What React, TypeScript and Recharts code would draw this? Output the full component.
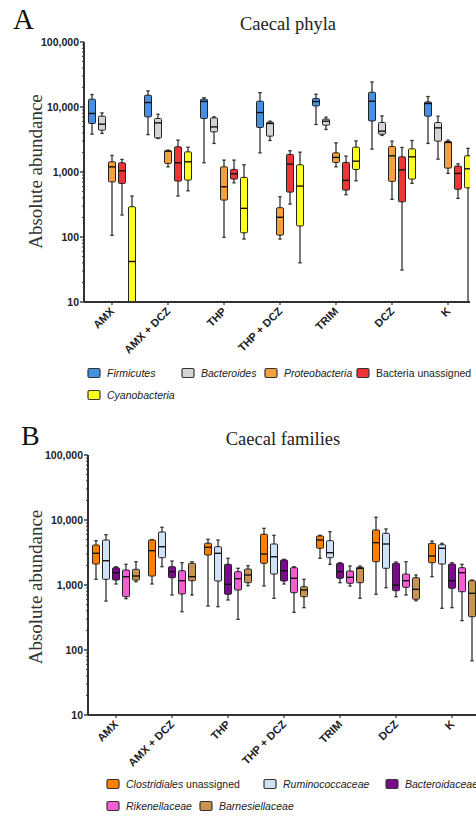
import { Bar, BarChart, XAxis, YAxis } from 'recharts'

// each box: [min, q1, median, q3, max]
type Box = [number, number, number, number, number]

const groups = ['AMX', 'AMX + DCZ', 'THP', 'THP + DCZ', 'TRIM', 'DCZ', 'K']
const yMajorTicks = [10, 100, 1000, 10000, 100000]

// A - caecal phyla
const firmicutes: Box[] = [
  [3820, 5580, 7950, 13180, 15560],
  [3760, 7050, 11720, 15170, 17670],
  [1385, 6650, 12190, 13180, 13900],
  [1970, 4840, 8220, 12270, 16600],
  [5380, 10400, 12150, 13520, 15730],
  [2250, 6110, 12270, 16870, 24300],
  [2750, 7220, 11320, 11970, 14490],
]
const bacteroides: Box[] = [
  [3920, 4400, 5440, 7220, 8110],
  [3280, 3350, 5700, 6650, 7740],
  [2750, 4150, 4940, 6800, 7050],
  [3050, 3560, 5580, 5850, 6050],
  [4510, 5250, 6050, 6500, 6970],
  [3650, 3820, 4250, 5780, 7300],
  [1578, 2985, 4780, 5780, 7220],
]
const proteobacteria: Box[] = [
  [106, 706, 1200, 1435, 1800],
  [1200, 1355, 2095, 2115, 2170],
  [99, 370, 593, 1200, 1525],
  [93, 107, 201, 282, 416],
  [1200, 1403, 1675, 1970, 2810],
  [379, 717, 1775, 2475, 2985],
  [951, 1148, 2850, 2950, 3090],
]
const unassigned: Box[] = [
  [218, 668, 1043, 1385, 1560],
  [427, 725, 1385, 2440, 3090],
  [682, 778, 938, 1096, 1525],
  [321, 491, 1322, 1865, 2120],
  [447, 527, 743, 1403, 1755],
  [31, 348, 1081, 1710, 2385],
  [393, 541, 951, 1232, 1337],
]
const cyanobacteria: Box[] = [
  [10, 10, 42, 292, 427],
  [514, 751, 1435, 2040, 2410],
  [93, 116, 276, 826, 1290],
  [40, 148, 607, 1290, 2020],
  [733, 1096, 1470, 2410, 3010],
  [668, 778, 1710, 2270, 3055],
  [10, 571, 1120, 1775, 2305],
]

// B - caecal families
const clostridiales: Box[] = [
  [1224, 2105, 3075, 4125, 4810],
  [1036, 1375, 3375, 4920, 5000],
  [475, 2895, 3800, 4385, 5045],
  [965, 2158, 2998, 6025, 7450],
  [2575, 3670, 4920, 5675, 5820],
  [719, 2280, 4480, 7020, 11010],
  [1342, 2203, 2793, 4385, 4750],
]
const ruminococcaceae: Box[] = [
  [567, 1224, 2366, 4920, 5940],
  [1914, 2630, 3880, 6530, 7730],
  [464, 1152, 3075, 3880, 4920],
  [624, 1476, 2723, 4275, 5820],
  [2080, 2630, 3140, 4810, 6605],
  [909, 1807, 4275, 6240, 7280],
  [438, 2105, 3670, 4170, 4385],
]
const bacteroidaceae: Box[] = [
  [1036, 1194, 1546, 1846, 1914],
  [702, 1295, 1603, 1914, 2340],
  [588, 719, 1025, 2080, 2575],
  [1036, 1152, 1660, 2425, 2483],
  [1085, 1268, 1603, 2158, 2203],
  [661, 817, 1000, 2158, 2258],
  [448, 889, 1165, 2105, 2203],
]
const rikenellaceae: Box[] = [
  [616, 661, 1342, 1702, 2080],
  [388, 728, 1165, 1660, 2203],
  [296, 838, 1250, 1603, 1807],
  [380, 762, 1268, 1846, 1914],
  [965, 1062, 1313, 1641, 1958],
  [702, 922, 1165, 1476, 2280],
  [283, 789, 1546, 1846, 2080],
]
const barnesiellaceae: Box[] = [
  [1124, 1194, 1375, 1744, 2280],
  [702, 1165, 1342, 2158, 2280],
  [975, 1085, 1425, 1762, 1982],
  [448, 661, 838, 942, 1224],
  [624, 1085, 1807, 1871, 1958],
  [573, 603, 858, 1295, 1425],
  [68, 325, 745, 1165, 1194],
]

interface Series {
  key: string
  label: [string, boolean][] // text parts, italic or not
  color: string
  boxes: Box[]
}

const phyla: Series[] = [
  { key: 'firmicutes', label: [['Firmicutes', true]], color: '#4690e4', boxes: firmicutes },
  { key: 'bacteroides', label: [['Bacteroides', true]], color: '#d4d4d4', boxes: bacteroides },
  { key: 'proteobacteria', label: [['Proteobacteria', true]], color: '#f7a13e', boxes: proteobacteria },
  { key: 'unassigned', label: [['Bacteria unassigned', false]], color: '#ee3434', boxes: unassigned },
  { key: 'cyanobacteria', label: [['Cyanobacteria', true]], color: '#ffff1e', boxes: cyanobacteria },
]

const families: Series[] = [
  { key: 'clostridiales', label: [['Clostridiales', true], [' unassigned', false]], color: '#ff8000', boxes: clostridiales },
  { key: 'ruminococcaceae', label: [['Ruminococcaceae', true]], color: '#cfe2f7', boxes: ruminococcaceae },
  { key: 'bacteroidaceae', label: [['Bacteroidaceae', true]], color: '#7c0a8c', boxes: bacteroidaceae },
  { key: 'rikenellaceae', label: [['Rikenellaceae', true]], color: '#f35ed6', boxes: rikenellaceae },
  { key: 'barnesiellaceae', label: [['Barnesiellaceae', true]], color: '#c99450', boxes: barnesiellaceae },
]

// legend square positions (left, centre y) per item
const phylaLegendPos = [[88, 373], [182, 373], [265, 373], [357, 373], [88, 395]]
const familiesLegendPos = [[107, 784], [264, 784], [386, 784], [107, 806], [200, 806]]

const sans = '"Liberation Sans", Arial, sans-serif'
const serif = '"Liberation Serif", "Times New Roman", serif'
const ink = '#333'

const yTicks: number[] = []
yMajorTicks.slice(0, -1).forEach((d) => {
  for (let m = 1; m < 10; m++) yTicks.push(d * m)
})
yTicks.push(yMajorTicks[yMajorTicks.length - 1])

function toRows(series: Series[]) {
  return groups.map((group, i) => {
    const row: Record<string, unknown> = { group }
    series.forEach((s) => (row[s.key] = s.boxes[i]))
    return row
  })
}

function LogTick(props: any) {
  const { x, y, payload } = props
  const v = Number(payload.value)
  const major = yMajorTicks.includes(v)
  return (
    <g>
      <line x1={x - (major ? 4 : 2)} x2={x} y1={y} y2={y} stroke={ink} strokeWidth={major ? 1.4 : 1} />
      {major && (
        <text x={x - 5} y={y + 3.7} textAnchor="end" fontFamily={sans} fontSize={10.5} fontWeight={700} fill="#222">
          {v.toLocaleString('en-US')}
        </text>
      )}
    </g>
  )
}

function GroupTick(props: any) {
  const { x, y, payload } = props
  const ax = x + 3
  const ay = y + 10
  return (
    <g>
      <line x1={x} x2={x} y1={y} y2={y + 3} stroke={ink} strokeWidth={1.2} />
      <text
        x={ax}
        y={ay}
        transform={`rotate(-45 ${ax} ${ay})`}
        textAnchor="end"
        fontFamily={sans}
        fontSize={11}
        fontWeight={700}
        fill="#222"
      >
        {payload.value}
      </text>
    </g>
  )
}

// bar spans [min, max]; the inner values sit on the same log scale
function BoxShape(props: any) {
  const { x, y, width, height, payload, boxKey, color } = props
  const [min, q1, med, q3, max] = payload[boxKey] as Box
  const top = Math.min(y, y + height)
  const bottom = Math.max(y, y + height)
  const lo = Math.log10(min)
  const hi = Math.log10(max)
  const py = (v: number) =>
    hi === lo ? bottom : bottom - ((Math.log10(v) - lo) / (hi - lo)) * (bottom - top)
  const cx = x + width / 2
  const cap = 1.7
  return (
    <g>
      <line x1={cx} x2={cx} y1={top} y2={bottom} stroke={ink} strokeWidth={1.3} />
      <line x1={cx - cap} x2={cx + cap} y1={top} y2={top} stroke={ink} strokeWidth={1.3} />
      <line x1={cx - cap} x2={cx + cap} y1={bottom} y2={bottom} stroke={ink} strokeWidth={1.3} />
      <rect
        x={x + 0.5}
        y={py(q3)}
        width={width - 1}
        height={Math.max(py(q1) - py(q3), 1)}
        fill={color}
        stroke="#222"
        strokeWidth={1}
        rx={1}
      />
      <line x1={x + 0.5} x2={x + width - 0.5} y1={py(med)} y2={py(med)} stroke="#111" strokeWidth={1.4} />
    </g>
  )
}

interface PanelProps {
  series: Series[]
  top: number
  clipWidth: number
  width: number
  height: number
  margin: { top: number; right: number; left: number; bottom: number }
}

function BoxPanel({ series, top, clipWidth, width, height, margin }: PanelProps) {
  return (
    <div style={{ position: 'absolute', left: 0, top, width: clipWidth, height, overflow: 'hidden' }}>
      <BarChart width={width} height={height} data={toRows(series)} margin={margin} barSize={8} barGap={2}>
        <XAxis
          dataKey="group"
          interval={0}
          height={60}
          tickLine={false}
          tickSize={0}
          tickMargin={0}
          tick={<GroupTick />}
          axisLine={{ stroke: ink, strokeWidth: 2 }}
        />
        <YAxis
          type="number"
          scale="log"
          domain={[10, 100000]}
          allowDataOverflow
          ticks={yTicks}
          interval={0}
          width={60}
          tickLine={false}
          tickSize={0}
          tickMargin={0}
          tick={<LogTick />}
          axisLine={{ stroke: ink, strokeWidth: 2 }}
        />
        {series.map((s) => (
          <Bar
            key={s.key}
            dataKey={(d: any) => [d[s.key][0], d[s.key][4]]}
            isAnimationActive={false}
            shape={(p: any) => <BoxShape {...p} boxKey={s.key} color={s.color} />}
          />
        ))}
      </BarChart>
    </div>
  )
}

function LegendItems({ series, pos }: { series: Series[]; pos: number[][] }) {
  return (
    <>
      {series.map((s, i) => {
        const [lx, ly] = pos[i]
        return (
          <g key={s.key}>
            <rect x={lx} y={ly - 4.5} width={12} height={9} rx={1.5} fill={s.color} stroke={ink} strokeWidth={1.2} />
            <text x={lx + 19} y={ly + 3.8} fontFamily={sans} fontSize={10.5} fill="#222">
              {s.label.map(([t, it], j) => (
                <tspan key={j} fontStyle={it ? 'italic' : 'normal'}>
                  {t}
                </tspan>
              ))}
            </text>
          </g>
        )
      })}
    </>
  )
}

export default function App() {
  return (
    <div
      style={{
        position: 'absolute',
        left: 0,
        top: 0,
        width: 476,
        height: 818,
        overflow: 'hidden',
        background: '#fff',
      }}
    >
      <BoxPanel
        series={phyla}
        top={0}
        clipWidth={470}
        width={480}
        height={362}
        margin={{ top: 42, right: 4, left: 24, bottom: 0 }}
      />
      <BoxPanel
        series={families}
        top={400}
        clipWidth={476}
        width={484}
        height={375}
        margin={{ top: 55, right: 4, left: 28, bottom: 0 }}
      />
      <svg width={476} height={818} style={{ position: 'absolute', left: 0, top: 0, pointerEvents: 'none' }}>
        <text x={13} y={29} fontFamily={serif} fontSize={29} fill="#111">
          A
        </text>
        <text x={288} y={30} textAnchor="middle" fontFamily={serif} fontSize={18.5} fill="#222">
          Caecal phyla
        </text>
        <text x={42} y={171.5} transform="rotate(-90 42 171.5)" textAnchor="middle" fontFamily={serif} fontSize={19} fill="#333">
          Absolute abundance
        </text>
        <text x={21} y={445} fontFamily={serif} fontSize={28} fill="#111">
          B
        </text>
        <text x={283} y={445} textAnchor="middle" fontFamily={serif} fontSize={18.5} fill="#222">
          Caecal families
        </text>
        <text x={42} y={587} transform="rotate(-90 42 587)" textAnchor="middle" fontFamily={serif} fontSize={19} fill="#333">
          Absolute abundance
        </text>
        <LegendItems series={phyla} pos={phylaLegendPos} />
        <LegendItems series={families} pos={familiesLegendPos} />
      </svg>
    </div>
  )
}
